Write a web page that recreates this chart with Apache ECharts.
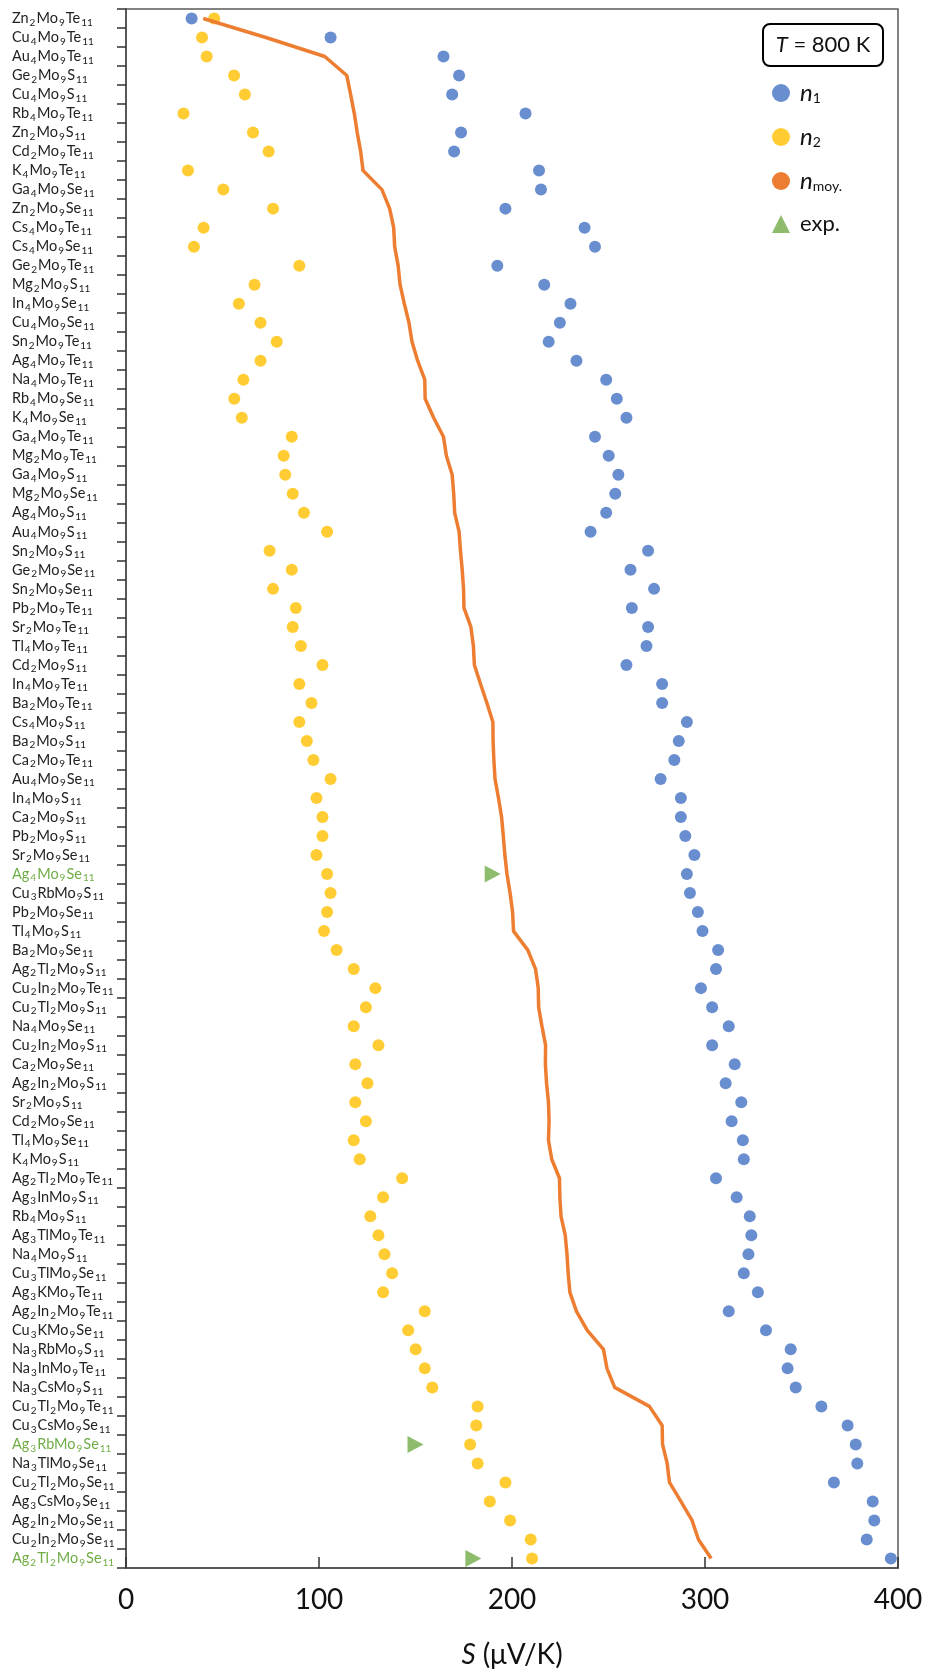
<!DOCTYPE html>
<html>
<head>
<meta charset="utf-8">
<title>S at 800 K</title>
<script src="https://cdn.jsdelivr.net/npm/echarts@6/dist/echarts.min.js"></script>
<style>
  html, body { margin: 0; padding: 0; background: #fff; }
  #chart { width: 927px; height: 1672px; }
</style>
</head>
<body>
<div id="chart"></div>
<script>
// compounds, top to bottom
var compounds = ['Zn2Mo9Te11','Cu4Mo9Te11','Au4Mo9Te11','Ge2Mo9S11','Cu4Mo9S11','Rb4Mo9Te11','Zn2Mo9S11','Cd2Mo9Te11','K4Mo9Te11','Ga4Mo9Se11',
  'Zn2Mo9Se11','Cs4Mo9Te11','Cs4Mo9Se11','Ge2Mo9Te11','Mg2Mo9S11','In4Mo9Se11','Cu4Mo9Se11','Sn2Mo9Te11','Ag4Mo9Te11','Na4Mo9Te11',
  'Rb4Mo9Se11','K4Mo9Se11','Ga4Mo9Te11','Mg2Mo9Te11','Ga4Mo9S11','Mg2Mo9Se11','Ag4Mo9S11','Au4Mo9S11','Sn2Mo9S11','Ge2Mo9Se11',
  'Sn2Mo9Se11','Pb2Mo9Te11','Sr2Mo9Te11','Tl4Mo9Te11','Cd2Mo9S11','In4Mo9Te11','Ba2Mo9Te11','Cs4Mo9S11','Ba2Mo9S11','Ca2Mo9Te11',
  'Au4Mo9Se11','In4Mo9S11','Ca2Mo9S11','Pb2Mo9S11','Sr2Mo9Se11','Ag4Mo9Se11','Cu3RbMo9S11','Pb2Mo9Se11','Tl4Mo9S11','Ba2Mo9Se11',
  'Ag2Tl2Mo9S11','Cu2In2Mo9Te11','Cu2Tl2Mo9S11','Na4Mo9Se11','Cu2In2Mo9S11','Ca2Mo9Se11','Ag2In2Mo9S11','Sr2Mo9S11','Cd2Mo9Se11','Tl4Mo9Se11',
  'K4Mo9S11','Ag2Tl2Mo9Te11','Ag3InMo9S11','Rb4Mo9S11','Ag3TlMo9Te11','Na4Mo9S11','Cu3TlMo9Se11','Ag3KMo9Te11','Ag2In2Mo9Te11','Cu3KMo9Se11',
  'Na3RbMo9S11','Na3InMo9Te11','Na3CsMo9S11','Cu2Tl2Mo9Te11','Cu3CsMo9Se11','Ag3RbMo9Se11','Na3TlMo9Se11','Cu2Tl2Mo9Se11','Ag3CsMo9Se11','Ag2In2Mo9Se11',
  'Cu2In2Mo9Se11','Ag2Tl2Mo9Se11'];

var n1 = [34,106,164.5,172.6,169,207,173.6,170,214,215,
  196.6,237.6,243,192.4,216.7,230.3,224.8,219,233.4,248.8,
  254.3,259.3,243,250.1,255.1,253.5,248.8,240.7,270.5,261.4,
  273.6,262.1,270.5,269.7,259.3,277.8,277.8,290.6,286.4,284.1,
  277,287.5,287.5,289.8,294.5,290.6,292.2,296.3,298.7,306.8,
  305.7,297.9,303.7,312.3,303.7,315.4,310.7,318.8,313.8,319.6,
  320.1,305.7,316.4,323.2,324,322.5,320.1,327.4,312.3,331.6,
  344.4,342.8,347,360.3,373.9,378.1,378.9,366.8,386.9,387.7,
  383.8,396.3];

var n2 = [45.7,39.4,41.8,56,61.6,29.8,65.8,73.9,32.1,50.4,
  76.2,40.2,35.2,89.8,66.6,58.5,69.7,78.1,69.7,60.8,
  56.1,60,85.9,81.7,82.5,86.4,92.2,104.2,74.4,85.9,
  76.2,88,86.4,90.6,101.8,89.8,96.1,89.8,93.7,97.1,
  106,98.7,101.8,101.8,98.7,104.2,106,104.2,102.6,109.1,
  118,129.2,124.3,118,130.8,118.8,125.1,118.8,124.3,118,
  121.1,143.1,133.2,126.6,130.8,133.9,137.9,133.2,154.8,146.2,
  150.1,154.8,158.7,182.2,181.5,178.3,182.2,196.6,188.5,199,
  209.7,210.4];

var nMoy = [40,72.5,103,114.4,116.4,118.3,119.8,121.6,122.8,132.6,
  136.6,138.7,139.2,141,142,144.2,146.6,148.2,151.1,154.8,
  155,159.4,164.5,166,169,169.8,170.3,172.6,173.3,174.2,
  174.9,175.1,178.7,180,180.5,183.7,187,190.1,190.2,190.6,
  191.2,193,194.6,195.5,196.3,197.4,199,200.3,200.8,208.2,
  212.2,213.6,213.8,215.5,217.4,217.3,217.9,218.9,219.2,218.9,
  220.6,224.6,224.8,225.4,227.6,228.5,229.1,230,233.4,239,
  247.4,249.2,253.2,271.2,277.8,278,280.4,281.6,287.5,293.3,
  296.6,303.2];

// experimental values
var expNames = ['Ag4Mo9Se11','Ag3RbMo9Se11','Ag2Tl2Mo9Se11'];
var expValues = [190, 150, 180];

var xTicks = [0, 100, 200, 300, 400];

var BLUE = '#4472C4', YELLOW = '#FFC000', ORANGE = '#ED7D31', GREEN = '#70AD47';
var FONT = 'Lato';

// formula -> rich text with subscripts
function formula(name) {
  var green = expNames.indexOf(name) >= 0;
  var a = green ? 'g' : 'n', b = green ? 'gs' : 's';
  return name.replace(/([A-Za-z]+)|(\d+)/g, function(m, el, num) {
    return el ? '{' + a + '|' + el + '}' : '{' + b + '|' + num + '}';
  });
}

var legendText = {
  n1: '{i|n}{s|1}',
  n2: '{i|n}{s|2}',
  nmoy: '{i|n}{s|moy.}',
  exp: '{e|exp.}'
};

var expData = expNames.map(function(n, i) { return [expValues[i], n]; });

var chart = echarts.init(document.getElementById('chart'));
chart.setOption({
  backgroundColor: '#fff',
  animation: false,
  grid: {
    left: 126, right: 29, top: 9, bottom: 104,
    outerBoundsMode: 'none',
    containLabel: false,
    show: true, borderColor: '#595959', borderWidth: 1.5, backgroundColor: 'transparent'
  },
  xAxis: {
    type: 'value',
    min: xTicks[0], max: xTicks[xTicks.length - 1], interval: 100,
    splitLine: { show: false },
    axisLine: { show: true, lineStyle: { color: '#595959', width: 2 } },
    axisTick: { show: true, inside: true, length: 11, lineStyle: { color: '#333', width: 1.5 } },
    axisLabel: { fontSize: 28, fontFamily: FONT, color: '#111', margin: 18 },
    name: '{i|S} (μV/K)',
    nameLocation: 'middle',
    nameGap: 73,
    nameTextStyle: {
      fontSize: 28, fontFamily: FONT, color: '#111',
      rich: { i: { fontSize: 28, fontFamily: FONT, fontStyle: 'italic', color: '#111' } }
    }
  },
  yAxis: {
    type: 'category',
    data: compounds,
    inverse: true,
    axisLine: { show: true, lineStyle: { color: '#595959', width: 2 } },
    axisTick: { show: true, length: 9, lineStyle: { color: '#333', width: 1.5 } },
    splitLine: { show: false },
    axisLabel: {
      interval: 0,
      align: 'left',
      margin: 114,
      formatter: formula,
      rich: {
        n: { fontSize: 14.5, fontFamily: FONT, color: '#222', lineHeight: 18 },
        s: { fontSize: 10, fontFamily: FONT, color: '#222', lineHeight: 10, verticalAlign: 'bottom', padding: [0, 1, 0, 1] },
        g: { fontSize: 14.5, fontFamily: FONT, color: GREEN, lineHeight: 18 },
        gs: { fontSize: 10, fontFamily: FONT, color: GREEN, lineHeight: 10, verticalAlign: 'bottom', padding: [0, 1, 0, 1] }
      }
    }
  },
  legend: {
    orient: 'vertical',
    left: 767, top: 76,
    itemWidth: 18, itemHeight: 18,
    itemGap: 20,
    symbolRotate: 0,
    data: [
      { name: 'n1', icon: 'circle' },
      { name: 'n2', icon: 'circle' },
      { name: 'nmoy', icon: 'circle' },
      { name: 'exp', icon: 'triangle' }
    ],
    formatter: function(name) { return legendText[name]; },
    textStyle: {
      fontFamily: FONT,
      rich: {
        i: { fontSize: 24, fontFamily: FONT, fontStyle: 'italic', color: '#111', lineHeight: 24, padding: [0, 0, 0, 5] },
        s: { fontSize: 14, fontFamily: FONT, color: '#111', lineHeight: 14, verticalAlign: 'bottom' },
        e: { fontSize: 22, fontFamily: FONT, color: '#111', lineHeight: 24, padding: [0, 0, 0, 5] }
      }
    }
  },
  graphic: [
    {
      type: 'rect',
      shape: { x: 763, y: 24, width: 120, height: 42, r: 7 },
      style: { fill: '#fff', stroke: '#000', lineWidth: 2 }
    },
    {
      type: 'text',
      x: 823, y: 45,
      style: {
        text: '{i|T} = 800 K',
        align: 'center', verticalAlign: 'middle',
        fontSize: 22, fontFamily: FONT, fill: '#111',
        rich: { i: { fontSize: 22, fontFamily: FONT, fontStyle: 'italic', fill: '#111' } }
      }
    }
  ],
  series: [
    {
      name: 'n1', type: 'scatter', data: n1,
      symbol: 'circle', symbolSize: 12,
      itemStyle: { color: BLUE }
    },
    {
      name: 'n2', type: 'scatter', data: n2,
      symbol: 'circle', symbolSize: 12,
      itemStyle: { color: YELLOW }
    },
    {
      name: 'nmoy', type: 'line', data: nMoy,
      showSymbol: false, symbol: 'none',
      itemStyle: { color: ORANGE },
      lineStyle: { color: ORANGE, width: 3.5 }
    },
    {
      name: 'exp', type: 'scatter', data: expData,
      symbol: 'triangle', symbolSize: [17, 16], symbolRotate: -90,
      itemStyle: { color: GREEN }
    }
  ]
});
</script>
</body>
</html>
